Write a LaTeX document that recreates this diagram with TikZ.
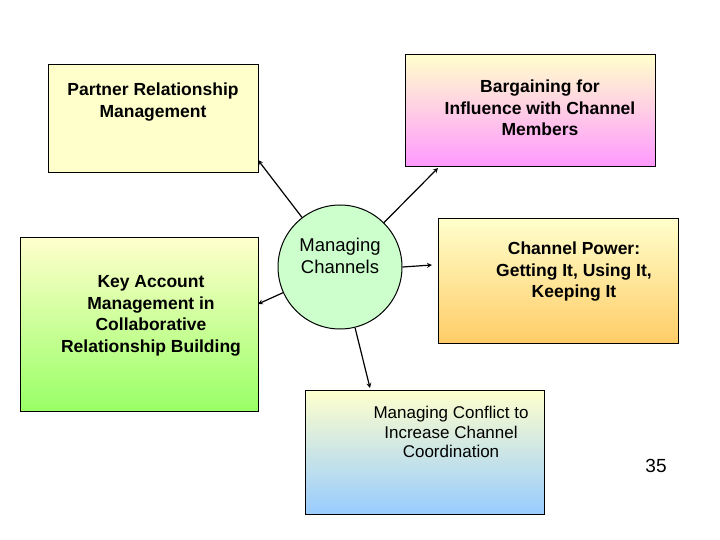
\documentclass[tikz,border=0pt]{standalone}
\usepackage{fontspec}
\setmainfont{Liberation Sans}
\begin{document}
\begin{tikzpicture}[x=1pt,y=-1pt,
 box/.style={draw=black,line width=1pt},
 lbl/.style={align=center,font=\fontsize{17.5}{21.5}\selectfont\bfseries,inner sep=0},
 arr/.style={draw=black,line width=1.2pt,-stealth}]
\useasboundingbox (0,0) rectangle (720,540);
\node[box,fill={rgb,255:red,255;green,255;blue,204},minimum width=210,minimum height=108,inner sep=0] (prm) at (153,119) {};
\node[lbl] (prmt) at (153,102) {Partner Relationship\\Management};
\node[box,top color={rgb,255:red,255;green,255;blue,204},bottom color={rgb,255:red,255;green,153;blue,255},minimum width=250,minimum height=112,inner sep=0] (bar) at (530,111) {};
\node[lbl] (bart) at (540,108) {Bargaining for\\Influence with Channel\\Members};
\node[box,top color={rgb,255:red,255;green,255;blue,204},bottom color={rgb,255:red,153;green,255;blue,102},minimum width=238,minimum height=174,inner sep=0] (kam) at (139,324) {};
\node[lbl] (kamt) at (151,316) {Key Account\\Management in\\Collaborative\\Relationship Building};
\node[box,top color={rgb,255:red,255;green,255;blue,204},bottom color={rgb,255:red,255;green,204;blue,102},minimum width=240,minimum height=125,inner sep=0] (cp) at (558,281) {};
\node[lbl] (cpt) at (574,272) {Channel Power:\\Getting It, Using It,\\Keeping It};
\node[box,top color={rgb,255:red,255;green,255;blue,204},bottom color={rgb,255:red,153;green,204;blue,255},minimum width=239,minimum height=124,inner sep=0] (mc) at (424.5,452) {};
\node[align=center,font=\fontsize{17}{19.5}\selectfont,inner sep=0] (mct) at (451,432) {Managing Conflict to\\Increase Channel\\Coordination};
\node[circle,draw=black,line width=1pt,fill={rgb,255:red,204;green,255;blue,204},minimum size=124,inner sep=0] (c) at (340,267) {};
\node[align=center,font=\fontsize{18.5}{22}\selectfont,inner sep=0] (ct) at (340,256) {Managing\\Channels};
\coordinate (a1) at (258,160);
\coordinate (a2) at (438,168);
\coordinate (a3) at (258,304);
\coordinate (a4) at (432,265);
\coordinate (a5) at (370,388);
\draw[arr] (c) -- (a1);
\draw[arr] (c) -- (a2);
\draw[arr] (c) -- (a3);
\draw[arr] (c.east) -- (a4);
\draw[arr] (c) -- (a5);
\node[font=\fontsize{19}{22}\selectfont] (n) at (656,466) {35};
\end{tikzpicture}
\end{document}
